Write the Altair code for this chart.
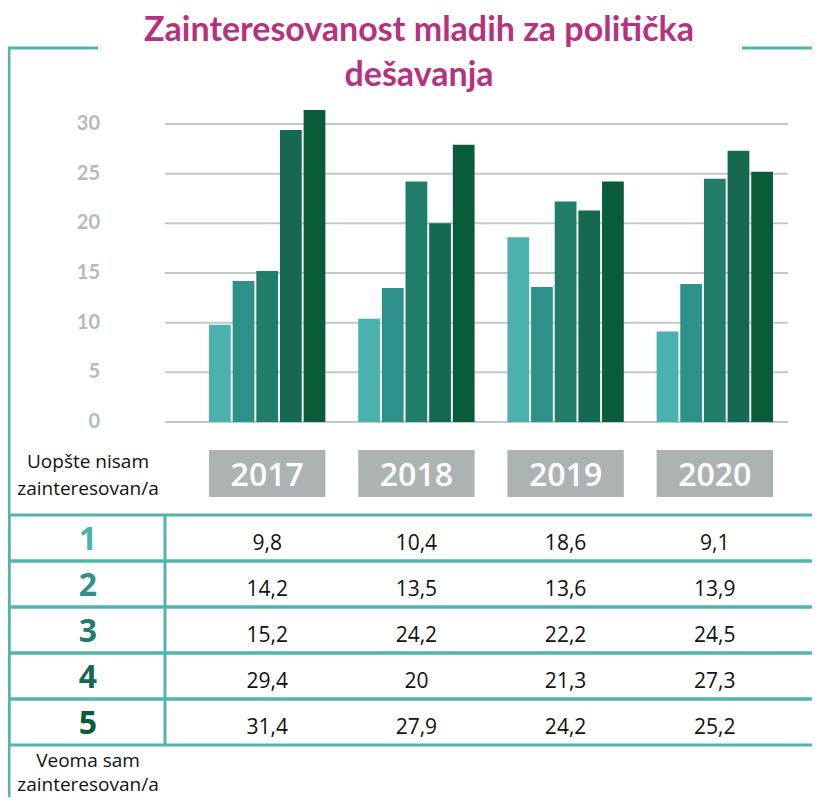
import altair as alt
import pandas as pd

# ---- data ----
years = ["2017", "2018", "2019", "2020"]
levels = [1, 2, 3, 4, 5]
values_2017 = [9.8, 14.2, 15.2, 29.4, 31.4]
values_2018 = [10.4, 13.5, 24.2, 20, 27.9]
values_2019 = [18.6, 13.6, 22.2, 21.3, 24.2]
values_2020 = [9.1, 13.9, 24.5, 27.3, 25.2]
y_ticks = [0, 5, 10, 15, 20, 25, 30]
level_colors = ["#4AB1AE", "#2D918A", "#1F7D69", "#156950", "#095C38"]
title_lines = ["Zainteresovanost mladih za politička", "dešavanja"]
low_label = ["Uopšte nisam", "zainteresovan/a"]
high_label = ["Veoma sam", "zainteresovan/a"]

series = {"2017": values_2017, "2018": values_2018, "2019": values_2019, "2020": values_2020}
rows = []
for yr in years:
    for lv, v in zip(levels, series[yr]):
        rows.append({"year": yr, "level": lv, "value": v, "label": str(v).replace(".", ",")})
df = pd.DataFrame(rows)
ticks_df = pd.DataFrame({"tick": y_ticks})
years_df = pd.DataFrame({"year": years})
levels_df = pd.DataFrame({"level": levels})
dummy = pd.DataFrame({"d": [0]})

TEAL = "#50B5AF"
GRID = "#C3C8C7"
AXIS_TXT = "#B3BBB9"
BOX = "#ACB4B3"
PINK = "#B5327E"

x_scale = alt.Scale(domain=years, range=[201, 765], paddingInner=0.22, paddingOuter=0)
y_scale = alt.Scale(domain=[0, 30], range=[414, 116], nice=False, zero=True)
row_scale = alt.Scale(domain=levels, range=[507, 737], paddingInner=0, paddingOuter=0)
color_scale = alt.Scale(domain=levels, range=level_colors)

grid = alt.Chart(ticks_df).mark_rule(color=GRID, strokeWidth=2).encode(
    y=alt.Y("tick:Q", scale=y_scale, axis=None),
    x=alt.value(157), x2=alt.value(780),
)
ylabels = alt.Chart(ticks_df).mark_text(
    font="Lato", fontWeight="bold", fontSize=20, color=AXIS_TXT, align="right", baseline="middle"
).encode(
    y=alt.Y("tick:Q", scale=y_scale, axis=None),
    x=alt.value(92),
    text=alt.Text("tick:Q"),
)
bars = alt.Chart(df).mark_bar().encode(
    x=alt.X("year:N", scale=x_scale, axis=None),
    xOffset=alt.XOffset("level:N", scale=alt.Scale(domain=levels, paddingInner=0.08, paddingOuter=0)),
    y=alt.Y("value:Q", scale=y_scale, axis=None),
    color=alt.Color("level:N", scale=color_scale, legend=None),
)
boxes = alt.Chart(years_df).mark_rect(color=BOX).encode(
    x=alt.X("year:N", scale=x_scale, axis=None),
    y=alt.value(442), y2=alt.value(489),
)
box_text = alt.Chart(years_df).mark_text(
    font="Open Sans", fontWeight=600, fontSize=32, color="white", align="center", baseline="alphabetic"
).encode(
    x=alt.X("year:N", scale=x_scale, axis=None),
    y=alt.value(478),
    text="year:N",
)
row_rects = alt.Chart(levels_df).mark_rect(fillOpacity=0, stroke=TEAL, strokeWidth=3).encode(
    y=alt.Y("level:N", scale=row_scale, axis=None),
    x=alt.value(1), x2=alt.value(840),
)
row_sep = alt.Chart(dummy).mark_rule(color=TEAL, strokeWidth=3).encode(
    x=alt.value(157), y=alt.value(507), y2=alt.value(737),
)
row_labels = alt.Chart(levels_df).mark_text(
    font="Open Sans", fontWeight="bold", fontSize=32, align="center", baseline="alphabetic", dy=11.5
).encode(
    y=alt.Y("level:N", scale=row_scale, axis=None),
    x=alt.value(80),
    text="level:N",
    color=alt.Color("level:N", scale=color_scale, legend=None),
)
cells = alt.Chart(df).mark_text(
    font="Open Sans", fontSize=21, color="#111111", align="center", baseline="alphabetic", dy=11.5
).encode(
    x=alt.X("year:N", scale=x_scale, axis=None),
    y=alt.Y("level:N", scale=row_scale, axis=None),
    text="label:N",
)
low_txt = alt.Chart(dummy).mark_text(
    text=low_label, font="Open Sans", fontSize=19, color="#111111", align="center",
    baseline="alphabetic", lineHeight=27
).encode(x=alt.value(80), y=alt.value(460))
high_txt = alt.Chart(dummy).mark_text(
    text=high_label, font="Open Sans", fontSize=19, color="#111111", align="center",
    baseline="alphabetic", lineHeight=24
).encode(x=alt.value(80), y=alt.value(759))
frame_v = alt.Chart(dummy).mark_rule(color=TEAL, strokeWidth=3).encode(
    x=alt.value(1), y=alt.value(40), y2=alt.value(820),
)
frame_h1 = alt.Chart(dummy).mark_rule(color=TEAL, strokeWidth=3).encode(
    x=alt.value(-1), x2=alt.value(90), y=alt.value(40),
)
frame_h2 = alt.Chart(dummy).mark_rule(color=TEAL, strokeWidth=3).encode(
    x=alt.value(734), x2=alt.value(830), y=alt.value(40),
)
title = alt.Chart(dummy).mark_text(
    text=title_lines, font="Lato", fontWeight="bold", fontSize=34, color=PINK, align="center",
    baseline="alphabetic", lineHeight=45
).encode(x=alt.value(411), y=alt.value(33))

chart = alt.layer(
    grid, ylabels, bars, boxes, box_text, row_rects, row_sep, row_labels, cells,
    low_txt, high_txt, frame_v, frame_h1, frame_h2, title,
).resolve_scale(y="independent").properties(
    width=804, height=789, autosize=alt.AutoSizeParams(type="none"), padding=0,
).configure_view(stroke=None)

chart.save("out.html", embed_options={"renderer": "svg", "actions": False})
